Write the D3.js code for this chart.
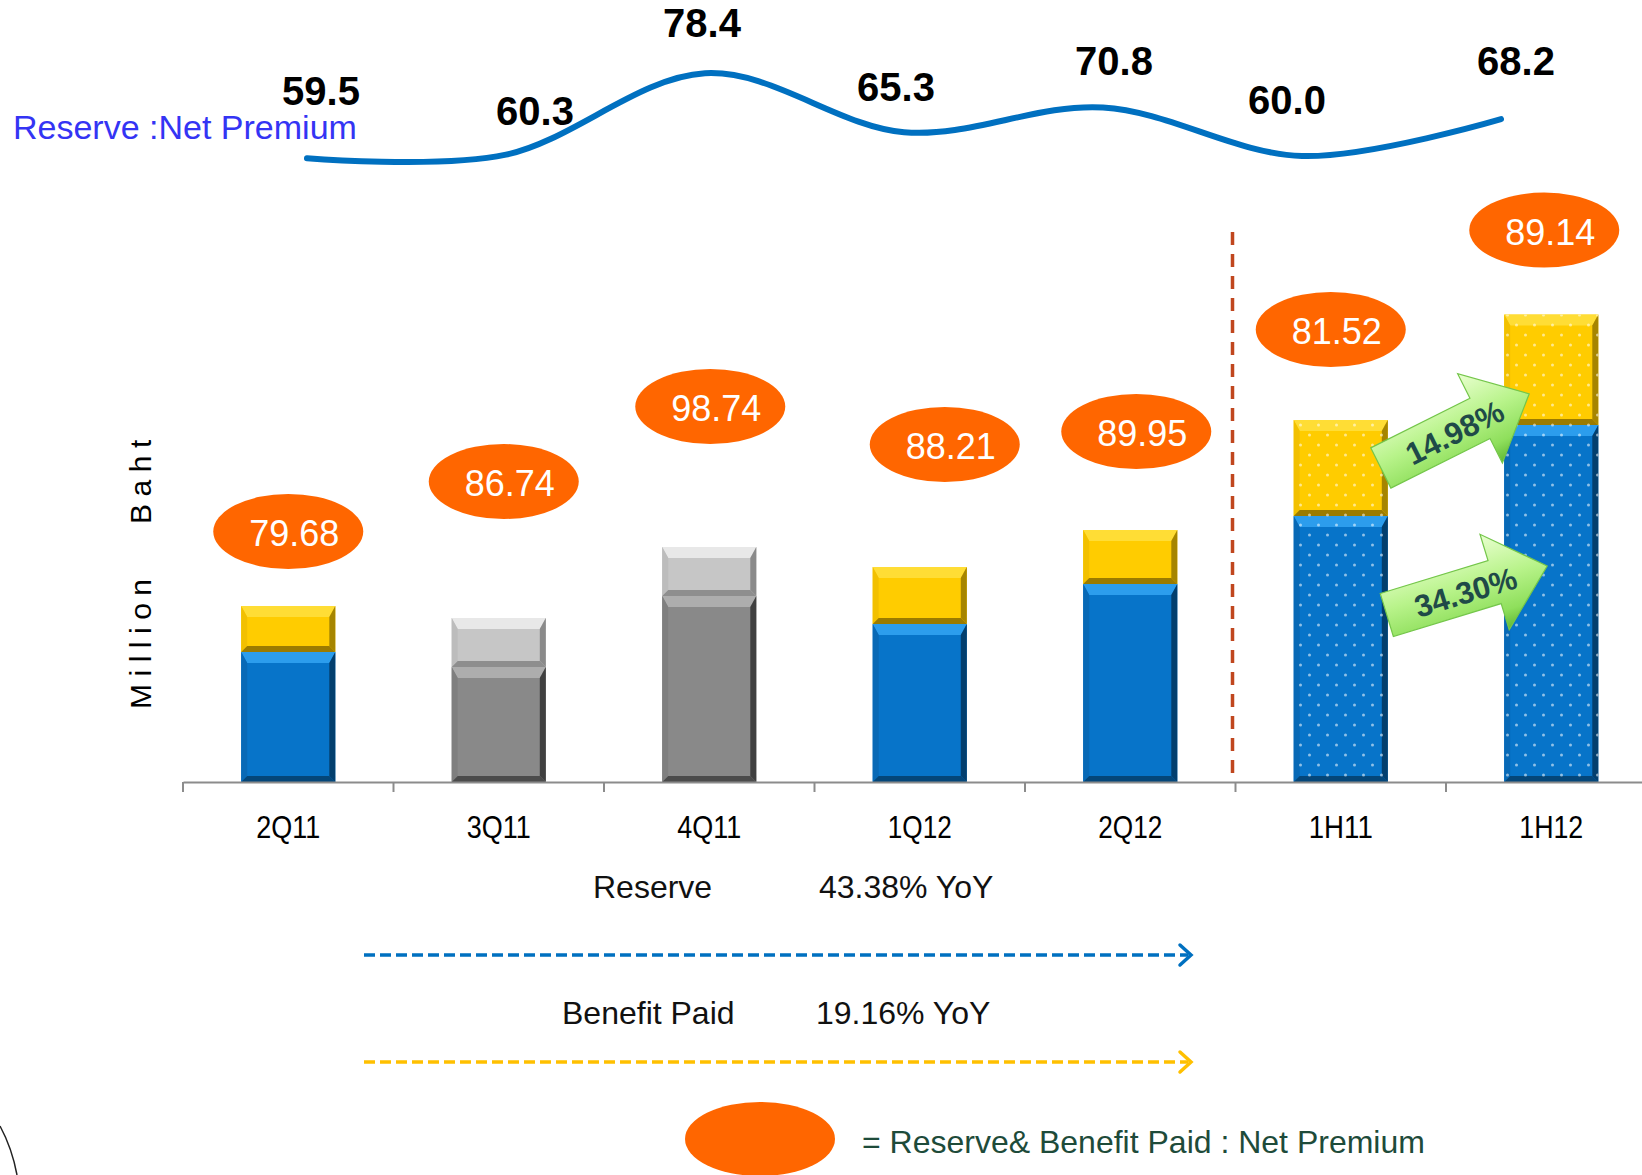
<!DOCTYPE html>
<html>
<head>
<meta charset="utf-8">
<script src="https://cdn.jsdelivr.net/npm/d3@7"></script>
<style>
  body { margin: 0; background: #fff; }
  svg { display: block; }
</style>
</head>
<body>
<script>
// ---- data ----
const categories = ["2Q11", "3Q11", "4Q11", "1Q12", "2Q12", "1H11", "1H12"];
const reserve = [650, 575, 930, 790, 990, 1330, 1785];      // million baht
const benefitPaid = [230, 245, 245, 285, 270, 480, 552];    // million baht
const ratioTotal = [79.68, 86.74, 98.74, 88.21, 89.95, 81.52, 89.14];   // reserve & benefit paid : net premium
const ratioReserve = [59.5, 60.3, 78.4, 65.3, 70.8, 60.0, 68.2];        // reserve : net premium
const greyed = ["3Q11", "4Q11"];
const halfYear = ["1H11", "1H12"];
const growthLabels = ["14.98%", "34.30%"];
const yoyNotes = [["Reserve", "43.38% YoY"], ["Benefit Paid", "19.16% YoY"]];

// manual placement of the callouts, as in the slide
const bubbleShift = [[0, 37], [5, 99], [1, 103], [25, 85], [6, 61], [-10, 53], [-7, 47]];
const lineLabelShift = [[14, -53], [29, -30], [-3, -36], [-8, -31], [11, -32], [-15, -42], [15, -44]];

const width = 1642, height = 1175;
const sans = "'Liberation Sans', Arial, sans-serif";

const svg = d3.select("body").append("svg")
    .attr("width", width)
    .attr("height", height)
    .attr("viewBox", [0, 0, width, height]);

const defs = svg.append("defs");

const dots = defs.append("pattern")
    .attr("id", "dots")
    .attr("patternUnits", "userSpaceOnUse")
    .attr("width", 18).attr("height", 20);
dots.append("circle").attr("cx", 4.5).attr("cy", 5).attr("r", 1.5)
    .attr("fill", "#fff").attr("fill-opacity", 0.55);
dots.append("circle").attr("cx", 13.5).attr("cy", 15).attr("r", 1.5)
    .attr("fill", "#fff").attr("fill-opacity", 0.55);

const green = defs.append("linearGradient")
    .attr("id", "green")
    .attr("x1", 0).attr("y1", 0).attr("x2", 0).attr("y2", 1);
green.append("stop").attr("offset", 0).attr("stop-color", "#e9ffd0");
green.append("stop").attr("offset", 0.45).attr("stop-color", "#b8f38a");
green.append("stop").attr("offset", 0.8).attr("stop-color", "#8fdf5c");
green.append("stop").attr("offset", 1).attr("stop-color", "#5fb833");

// ---- scales ----
const x = d3.scaleBand()
    .domain(categories)
    .range([183, 183 + 7 * 210.5])
    .paddingInner(0.553)
    .paddingOuter(0.2765);

const y = d3.scaleLinear()
    .domain([0, 2000])
    .range([782, 382]);

const xLine = d3.scalePoint()
    .domain(categories)
    .range([307, 1501]);

const yLine = d3.scaleLinear()
    .domain([55, 80])
    .range([178.5, 66.1]);

const bw = x.bandwidth();
const gap = x.step() * x.paddingInner() / 2;

// ---- palettes for the bevelled bars ----
const palettes = {
  blue:   { base: "#0774c9", top: "#2c9ded", left: "#0869b6", right: "#033f6e", bottom: "#044679" },
  yellow: { base: "#ffcc00", top: "#ffdd35", left: "#f2c000", right: "#a68500", bottom: "#9b7b00" },
  gray:   { base: "#898989", top: "#adadad", left: "#7f7f7f", right: "#404040", bottom: "#4b4b4b" },
  light:  { base: "#c6c6c6", top: "#e8e8e8", left: "#bcbcbc", right: "#8a8a8a", bottom: "#8e8e8e" }
};

function bevel(g, x0, y0, w, h, pal, dotted) {
  const bt = Math.min(11, h / 3), bs = 6, bb = Math.min(6, h / 4);
  const poly = pts => pts.map(p => p.join(",")).join(" ");
  g.append("rect").attr("x", x0).attr("y", y0).attr("width", w).attr("height", h).attr("fill", pal.base);
  g.append("polygon").attr("fill", pal.top)
      .attr("points", poly([[x0, y0], [x0 + w, y0], [x0 + w - bs, y0 + bt], [x0 + bs, y0 + bt]]));
  g.append("polygon").attr("fill", pal.left)
      .attr("points", poly([[x0, y0], [x0 + bs, y0 + bt], [x0 + bs, y0 + h - bb], [x0, y0 + h]]));
  g.append("polygon").attr("fill", pal.right)
      .attr("points", poly([[x0 + w, y0], [x0 + w, y0 + h], [x0 + w - bs, y0 + h - bb], [x0 + w - bs, y0 + bt]]));
  g.append("polygon").attr("fill", pal.bottom)
      .attr("points", poly([[x0, y0 + h], [x0 + w, y0 + h], [x0 + w - bs, y0 + h - bb], [x0 + bs, y0 + h - bb]]));
  if (dotted) {
    g.append("rect").attr("x", x0).attr("y", y0).attr("width", w).attr("height", h).attr("fill", "url(#dots)");
  }
}

// ---- stacked bars ----
const bars = svg.append("g");
categories.forEach((c, i) => {
  const grey = greyed.includes(c);
  const dotted = halfYear.includes(c);
  const g = bars.append("g");
  const x0 = x(c);
  const yR = y(reserve[i]);
  const yT = y(reserve[i] + benefitPaid[i]);
  bevel(g, x0, yR, bw, y(0) - yR, grey ? palettes.gray : palettes.blue, dotted);
  bevel(g, x0, yT, bw, yR - yT, grey ? palettes.light : palettes.yellow, dotted);
});

// ---- x axis ----
const axis = svg.append("g")
    .attr("transform", `translate(0,${y(0)})`)
    .call(d3.axisBottom(x).tickSize(0).tickSizeOuter(0).tickPadding(34));
axis.select(".domain").attr("stroke", "#8c8c8c").attr("stroke-width", 2);
// narrow face for the quarter labels: squeeze Liberation Sans
axis.selectAll(".tick text")
    .attr("font-family", sans)
    .attr("font-size", 32)
    .attr("fill", "#000")
    .attr("dy", "0.7em")
    .attr("textLength", 64)
    .attr("lengthAdjust", "spacingAndGlyphs");
axis.selectAll(".boundary")
    .data(categories)
    .join("line")
    .attr("x1", d => x(d) - gap).attr("x2", d => x(d) - gap)
    .attr("y1", 0).attr("y2", 10)
    .attr("stroke", "#8c8c8c").attr("stroke-width", 2);

// divider between quarters and half years
svg.append("line")
    .attr("x1", x("1H11") - gap - 3).attr("x2", x("1H11") - gap - 3)
    .attr("y1", 232).attr("y2", y(0) - 2)
    .attr("stroke", "#c0461e")
    .attr("stroke-width", 3.5)
    .attr("stroke-dasharray", "13,9");

// y axis title
svg.append("text")
    .attr("transform", "translate(151,709) rotate(-90)")
    .attr("font-family", sans)
    .attr("font-size", 30)
    .attr("letter-spacing", 7.5)
    .attr("fill", "#000")
    .style("white-space", "pre")
    .text("Million   Baht");

// ---- orange ratio bubbles ----
const bubbles = svg.append("g");
categories.forEach((c, i) => {
  const cx = x(c) + bw / 2 + bubbleShift[i][0];
  const cy = y(reserve[i] + benefitPaid[i]) - bubbleShift[i][1] - 37.5;
  bubbles.append("ellipse")
      .attr("cx", cx).attr("cy", cy)
      .attr("rx", 75).attr("ry", 37.5)
      .attr("fill", "#ff6600");
  bubbles.append("text")
      .attr("x", cx + 6).attr("y", cy)
      .attr("dy", "0.4em")
      .attr("text-anchor", "middle")
      .attr("font-family", sans)
      .attr("font-size", 36)
      .attr("fill", "#fff")
      .text(ratioTotal[i].toFixed(2));
});

// ---- green growth arrows between 1H11 and 1H12 ----
function arrowPath(L, sh, hl, hw) {
  return `M0,${-sh}L${L - hl},${-sh}L${L - hl},${-hw}L${L},0L${L - hl},${hw}L${L - hl},${sh}L0,${sh}Z`;
}
const a = categories.indexOf("1H11"), b = categories.indexOf("1H12");
const arrowEnds = [
  [[x("1H11") + bw - 7, y(reserve[a] + benefitPaid[a] / 2)],
   [x("1H12") + 25, y(reserve[b] + benefitPaid[b] / 2) + 24]],
  [[x("1H11") + bw - 1, y(reserve[a]) + 99],
   [x("1H12") + 43, y(reserve[b]) + 141]]
];
arrowEnds.forEach(([p0, p1], k) => {
  const dx = p1[0] - p0[0], dy = p1[1] - p0[1];
  const L = Math.hypot(dx, dy);
  const ang = Math.atan2(dy, dx) * 180 / Math.PI;
  const g = svg.append("g").attr("transform", `translate(${p0[0]},${p0[1]}) rotate(${ang})`);
  g.append("path")
      .attr("d", arrowPath(L, 22.5, 55, 50))
      .attr("fill", "url(#green)")
      .attr("stroke", "#74c64a")
      .attr("stroke-width", 1.2);
  g.append("text")
      .attr("x", 82).attr("y", 1)
      .attr("dy", "0.36em")
      .attr("text-anchor", "middle")
      .attr("font-family", sans)
      .attr("font-weight", "bold")
      .attr("font-size", 31)
      .attr("fill", "#1f4a48")
      .text(growthLabels[k]);
});

// ---- reserve : net premium line ----
const line = d3.line()
    .x((d, i) => xLine(categories[i]))
    .y(d => yLine(d))
    .curve(d3.curveCardinal.tension(0));

svg.append("path")
    .datum(ratioReserve)
    .attr("d", line)
    .attr("fill", "none")
    .attr("stroke", "#0070c0")
    .attr("stroke-width", 6)
    .attr("stroke-linecap", "round");

svg.append("g")
  .selectAll("text")
  .data(ratioReserve)
  .join("text")
    .attr("x", (d, i) => xLine(categories[i]) + lineLabelShift[i][0])
    .attr("y", (d, i) => yLine(d) + lineLabelShift[i][1])
    .attr("text-anchor", "middle")
    .attr("font-family", sans)
    .attr("font-weight", "bold")
    .attr("font-size", 40)
    .attr("fill", "#000")
    .text(d => d.toFixed(1));

svg.append("text")
    .attr("x", 13).attr("y", 139)
    .attr("font-family", sans)
    .attr("font-size", 34)
    .attr("fill", "#3434f4")
    .text("Reserve :Net Premium");

// ---- YoY notes with dashed arrows ----
const notes = [
  { lx: 593, vx: 819, ty: 898, ay: 955, color: "#0070c0" },
  { lx: 562, vx: 816, ty: 1024, ay: 1062, color: "#ffc000" }
];
notes.forEach((n, i) => {
  svg.append("text")
      .attr("x", n.lx).attr("y", n.ty)
      .attr("font-family", sans).attr("font-size", 32).attr("fill", "#111")
      .text(yoyNotes[i][0]);
  svg.append("text")
      .attr("x", n.vx).attr("y", n.ty)
      .attr("font-family", sans).attr("font-size", 32).attr("fill", "#111")
      .text(yoyNotes[i][1]);
  svg.append("line")
      .attr("x1", 364).attr("x2", 1188)
      .attr("y1", n.ay).attr("y2", n.ay)
      .attr("stroke", n.color).attr("stroke-width", 3.5)
      .attr("stroke-dasharray", "11,5");
  svg.append("path")
      .attr("d", `M1180,${n.ay - 10}L1191,${n.ay}L1180,${n.ay + 10}`)
      .attr("fill", "none")
      .attr("stroke", n.color).attr("stroke-width", 3.5)
      .attr("stroke-linecap", "round");
});

// ---- legend ----
svg.append("ellipse")
    .attr("cx", 760).attr("cy", 1139)
    .attr("rx", 75).attr("ry", 37)
    .attr("fill", "#ff6600");
svg.append("text")
    .attr("x", 862).attr("y", 1153)
    .attr("font-family", sans)
    .attr("font-size", 32)
    .attr("fill", "#1e4b3a")
    .text("= Reserve& Benefit Paid : Net Premium");

// stray frame edge at the bottom-left corner of the slide
svg.append("path")
    .attr("d", "M0,1126Q12,1148 17,1175")
    .attr("fill", "none")
    .attr("stroke", "#222")
    .attr("stroke-width", 1.5);
</script>
</body>
</html>
